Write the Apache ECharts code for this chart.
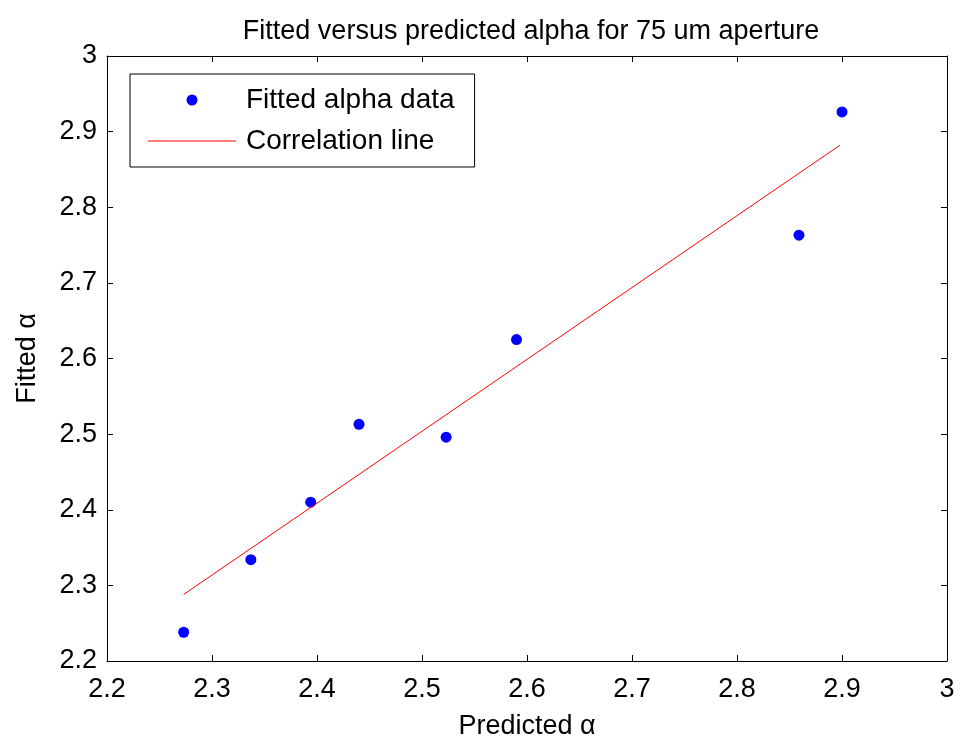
<!DOCTYPE html>
<html lang="en">

<head>
    <meta charset="UTF-8">
    <title>fitted vs predicted alpha</title>
    <style>
        html,
        body,
        #chart {
            margin: 0;
            padding: 0;
            overflow: hidden;
            width: 100%;
            height: 100%;
            background: #fff;
        }
    </style>
</head>

<body>
    <div id="chart"></div>
    <script src="https://cdn.jsdelivr.net/npm/echarts@6/dist/echarts.min.js"></script>
    <script>
        // measured points
        var predicted = [2.273, 2.337, 2.394, 2.440, 2.523, 2.590, 2.859, 2.900];
        var fitted = [2.238, 2.334, 2.410, 2.513, 2.496, 2.625, 2.763, 2.926];
        // correlation line end points
        var lineX = [2.273, 2.898];
        var lineY = [2.288, 2.882];

        var font = "'Liberation Sans', Arial, sans-serif";

        var pts = predicted.map(function (x, i) { return [x, fitted[i]]; });
        var linePts = lineX.map(function (x, i) { return [x, lineY[i]]; });

        var chart = echarts.init(document.getElementById('chart'));

        function axisBase(show) {
            return {
                type: 'value',
                min: 2.2,
                max: 3,
                interval: 0.1,
                axisLine: { show: true, onZero: false, lineStyle: { color: '#000', width: 1 } },
                axisTick: { show: true, inside: true, length: 6, lineStyle: { color: '#000' } },
                splitLine: { show: false },
                axisLabel: { show: show, color: '#000', fontSize: 27, fontFamily: font },
            };
        }

        var xBottom = axisBase(true);
        xBottom.position = 'bottom';
        xBottom.name = 'Predicted α';
        xBottom.nameLocation = 'middle';
        xBottom.nameGap = 52;
        xBottom.nameTextStyle = { color: '#000', fontSize: 27, fontFamily: font };
        xBottom.axisLabel.margin = 15;

        var xTop = axisBase(false);
        xTop.position = 'top';

        var yLeft = axisBase(true);
        yLeft.position = 'left';
        yLeft.name = 'Fitted α';
        yLeft.nameLocation = 'middle';
        yLeft.nameRotate = 90;
        yLeft.nameGap = 66;
        yLeft.nameTextStyle = { color: '#000', fontSize: 27, fontFamily: font };
        yLeft.axisLabel.margin = 10;

        var yRight = axisBase(false);
        yRight.position = 'right';

        chart.setOption({
            animation: false,
            title: {
                text: 'Fitted versus predicted alpha for 75 um aperture',
                top: 13,
                left: 526,
                textAlign: 'center',
                textStyle: { color: '#000', fontSize: 27, fontWeight: 'normal', fontFamily: font }
            },
            grid: { left: 107, right: 13, top: 56, bottom: 79, containLabel: false, outerBoundsMode: 'none' },
            legend: {
                orient: 'vertical',
                left: 130,
                top: 74,
                padding: [11, 20, 11, 18],
                itemGap: 11,
                itemWidth: 88,
                itemHeight: 11,
                backgroundColor: '#fff',
                borderColor: '#000',
                borderWidth: 1,
                textStyle: { color: '#000', fontSize: 28, lineHeight: 30, fontFamily: font, padding: [0, 0, 0, 5] },
                data: [
                    { name: 'Fitted alpha data', icon: 'circle' },
                    { name: 'Correlation line', icon: 'path://M0,0L88,0L88,1L0,1Z' }
                ]
            },
            xAxis: [xBottom, xTop],
            yAxis: [yLeft, yRight],
            series: [{
                name: 'Fitted alpha data',
                type: 'scatter',
                symbol: 'circle',
                symbolSize: 11,
                itemStyle: { color: '#0000ff', opacity: 1 },
                data: pts
            }, {
                name: 'Correlation line',
                type: 'line',
                showSymbol: false,
                symbol: 'none',
                lineStyle: { color: '#ff0000', width: 1 },
                itemStyle: { color: '#ff0000' },
                data: linePts
            }]
        });
    </script>
</body>

</html>
